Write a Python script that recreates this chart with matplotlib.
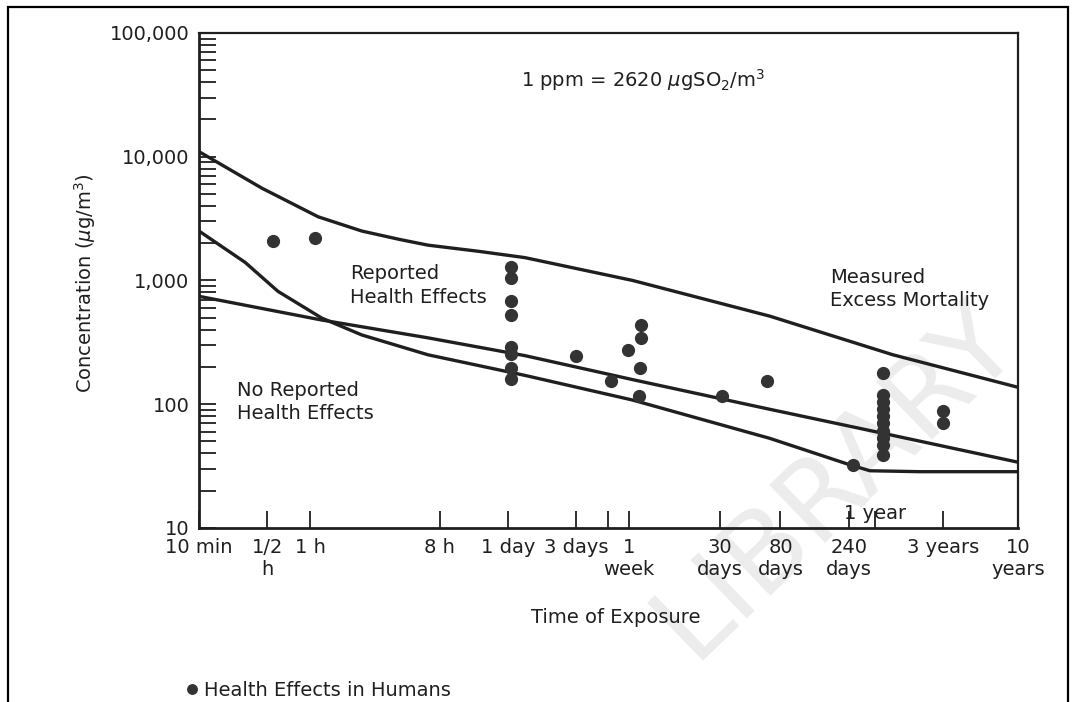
import matplotlib.pyplot as plt
from matplotlib.patches import Rectangle
from matplotlib.ticker import NullFormatter, NullLocator

# exposure time in minutes, concentration in ug/m3
tick_minutes = [10, 30, 60, 480, 1440, 4320, 7200, 10080, 43200, 115200, 345600, 525600, 1576800, 5256000]
tick_labels = ['10 min', '1/2\nh', '1 h', '8 h', '1 day', '3 days', '', '1\nweek',
               '30\ndays', '80\ndays', '240\ndays', '', '3 years', '10\nyears']

y_ticks = [10, 100, 1000, 10000, 100000]
y_labels = ['10', '100', '1,000', '10,000', '100,000']

# boundary curves
upper_x = [10, 27.5, 68, 137, 250, 397, 900, 1890, 10700, 97000, 702000, 5256000]
upper_y = [11000, 5570, 3270, 2510, 2150, 1930, 1720, 1530, 1000, 515, 251, 137]

steep_x = [10, 21, 35.6, 72, 137, 397, 1890, 10700, 97000, 335000, 485000, 1084000, 5256000]
steep_y = [2510, 1400, 817, 497, 363, 251, 171, 108, 53, 33, 29, 28.5, 28.5]

shallow_x = [10, 72, 397, 1890, 10700, 97000, 702000, 5256000]
shallow_y = [745, 479, 344, 247, 158, 91, 56, 34]

# health effects in humans
dot_x = [33, 65,
         1500, 1500, 1500, 1500, 1500, 1500, 1500, 1500,
         4320, 7500, 9900, 12200, 12200, 12000, 11800, 45000, 92500,
         600000, 600000, 600000, 600000, 600000, 600000, 600000, 600000, 600000, 600000,
         369000, 1576800, 1576800]
dot_y = [2100, 2200,
         1280, 1055, 679, 525, 291, 256, 198, 161,
         247, 153, 275, 437, 344, 198, 116, 116, 153,
         180, 118, 104, 91, 80, 70, 61, 53, 47, 39,
         32, 87.5, 71]

plt.rcParams['font.family'] = ['DejaVu Sans']
ink = '#1f1f1f'

fig = plt.figure(figsize=(10.74, 7.02), dpi=100)
ax = fig.add_axes([0.1853, 0.2479, 0.7626, 0.7051])
ax.set_zorder(1)
ax.patch.set_facecolor('none')

ax.plot(upper_x, upper_y, color=ink, lw=2.4)
ax.plot(steep_x, steep_y, color=ink, lw=2.4)
ax.plot(shallow_x, shallow_y, color=ink, lw=2.4)
ax.plot(dot_x, dot_y, 'o', ls='none', ms=8.5, color='#333333', label='Health Effects in Humans')

ax.set_xscale('log')
ax.set_yscale('log')
ax.set_xlim(10, 5256000)
ax.set_ylim(10, 100000)

ax.set_xticks(tick_minutes, tick_labels)
ax.xaxis.set_minor_locator(NullLocator())
ax.set_yticks(y_ticks, y_labels)
ax.yaxis.set_minor_formatter(NullFormatter())
ax.tick_params(axis='x', direction='in', length=12, width=1.3, labelsize=14, pad=7, colors=ink)
ax.tick_params(axis='y', which='both', direction='in', length=12, width=1.3, labelsize=14, pad=7, colors=ink)

for side, w in [('left', 2.0), ('bottom', 2.0), ('top', 1.6), ('right', 1.6)]:
    ax.spines[side].set_linewidth(w)
    ax.spines[side].set_color(ink)

ax.text(525600, 0.03, '1 year', transform=ax.get_xaxis_transform(), ha='center', va='center',
        fontsize=14, color=ink)

ax.set_xlabel('Time of Exposure', fontsize=14, color=ink)
ax.xaxis.set_label_coords(0.509, -0.162)
fig.text(85 / 1074, 1 - 283 / 702, r'Concentration ($\mu$g/m$^3$)', rotation=90,
         ha='center', va='center', fontsize=14, color=ink)

fig.text(0.485, 0.886, r'1 ppm = 2620 $\mu$gSO$_2$/m$^3$', ha='left', va='center', fontsize=14, color=ink)
fig.text(0.326, 0.593, 'Reported\nHealth Effects', ha='left', va='center', fontsize=14,
         linespacing=1.3, color=ink)
fig.text(0.773, 0.588, 'Measured\nExcess Mortality', ha='left', va='center', fontsize=14,
         linespacing=1.3, color=ink)
fig.text(0.2207, 0.427, 'No Reported\nHealth Effects', ha='left', va='center', fontsize=14,
         linespacing=1.3, color=ink)

fig.legend(loc='center left', bbox_to_anchor=(186 / 1074, 1 - 690 / 702), frameon=False,
           handlelength=0.6, handletextpad=0.3, borderpad=0, borderaxespad=0,
           fontsize=14, markerscale=0.8, labelcolor=ink)

# faint watermark
fig.text(835 / 1074, 1 - 480 / 702, 'LIBRARY', rotation=44, fontsize=80, color='#ececec',
         ha='center', va='center', zorder=0.5)

fig.add_artist(Rectangle((8 / 1074, -0.05), 1060 / 1074, 1.05 - 7 / 702, transform=fig.transFigure,
                         fill=False, lw=1.6, ec='black'))

fig.savefig('out.png', dpi=100)
